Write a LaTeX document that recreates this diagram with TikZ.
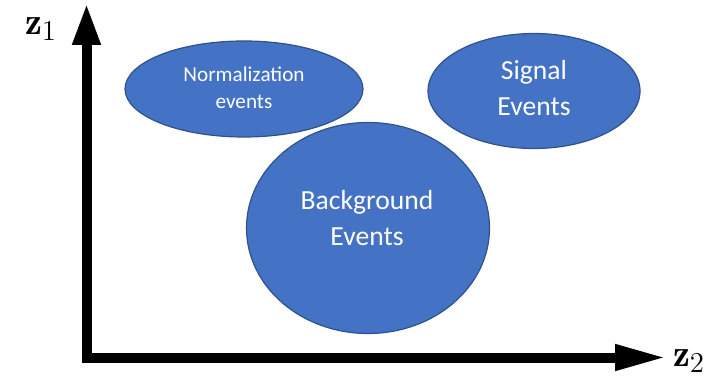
\documentclass[tikz,border=0pt]{standalone}
\usepackage{fontspec}
\newfontfamily\evfont{Carlito}
\usetikzlibrary{shapes.geometric,arrows.meta}
\definecolor{evblue}{HTML}{4472C4}
\definecolor{evedge}{HTML}{2F528F}
\begin{document}
\begin{tikzpicture}[
    x=0.5pt,y=-0.5pt,
    blob/.style={ellipse, draw=evedge, fill=evblue, line width=0.6pt, inner sep=0pt},
    evtext/.style={text=white, align=center, font=\evfont\fontsize{13.8}{18}\selectfont},
    axis/.style={line width=5pt, draw=black, line join=miter},
    zlbl/.style={font=\fontsize{19}{22}\selectfont}
]
    \useasboundingbox (0,0) rectangle (715,378);

    \node[blob, minimum width=119pt, minimum height=48pt] (norm) at (244,89) {};
    \node[blob, minimum width=106pt, minimum height=57.5pt] (sig) at (534,91) {};
    \node[blob, minimum width=121.5pt, minimum height=105.5pt] (bkg) at (368,228) {};

    \node[evtext, font=\evfont\fontsize{10.6}{13.5}\selectfont] (normlbl) at (244,88) {Normalization\\events};
    \node[evtext] (siglbl) at (534,88) {Signal\\Events};
    \node[evtext] (bkglbl) at (367,218) {Background\\Events};

    \coordinate (ztop) at (86.5,3);
    \coordinate (origin) at (86.5,357.5);
    \coordinate (zright) at (667,357.5);
    \draw[axis, {Triangle[length=21pt,width=13pt]}-{Triangle[length=26pt,width=12pt]}]
        (ztop) -- (origin) -- (zright);

    \node[zlbl] (zone) at (41,29) {$\mathbf{z}_1$};
    \node[zlbl] (ztwo) at (689,361) {$\mathbf{z}_2$};
\end{tikzpicture}
\end{document}
